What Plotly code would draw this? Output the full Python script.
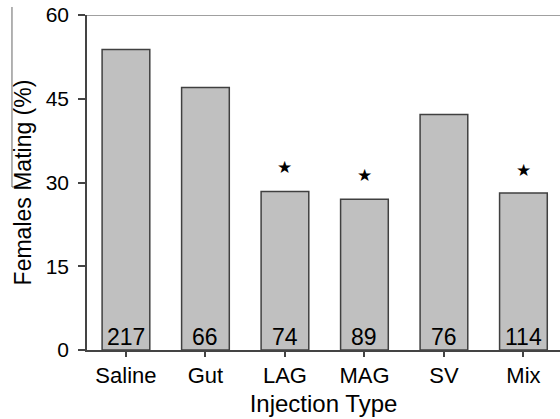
import plotly.graph_objects as go

categories = ["Saline", "Gut", "LAG", "MAG", "SV", "Mix"]
mating_pct = [53.8, 47.0, 28.4, 27.0, 42.2, 28.1]
n_labels = ["217", "66", "74", "89", "76", "114"]
star_cats = ["LAG", "MAG", "Mix"]
star_vals = [32.7, 31.4, 32.3]
y_ticks = [0, 15, 30, 45, 60]

FONT = "Liberation Sans, Arial, sans-serif"

fig = go.Figure()
fig.add_trace(go.Bar(
    x=categories, y=mating_pct, width=0.6,
    marker=dict(color="#c0c0c0", line=dict(color="#404040", width=1.5)),
    hoverinfo="skip",
))

annotations = []
for c, n in zip(categories, n_labels):
    annotations.append(dict(x=c, y=0, text=n, showarrow=False, xref="x", yref="y",
                            yanchor="bottom", yshift=-2,
                            font=dict(family=FONT, size=23, color="black")))
for c, v in zip(star_cats, star_vals):
    annotations.append(dict(x=c, y=v, text="★", showarrow=False, xref="x", yref="y",
                            font=dict(family="DejaVu Sans", size=17, color="black")))

fig.update_layout(
    width=560, height=419,
    margin=dict(l=87, r=0, t=15, b=69),
    paper_bgcolor="white", plot_bgcolor="white",
    showlegend=False,
    font=dict(family=FONT, color="black"),
    annotations=annotations,
    bargap=0.4,
    xaxis=dict(
        range=[-0.49, 5.46], showline=True, linecolor="#444", linewidth=1.5,
        ticks="outside", ticklen=5, tickcolor="#444", tickwidth=1.5,
        tickfont=dict(size=22, family=FONT),
        title=dict(text="Injection Type", font=dict(size=24, family=FONT), standoff=8),
        showgrid=False, zeroline=False,
    ),
    yaxis=dict(
        range=[0, 60], tickvals=y_ticks, showline=True, linecolor="#444", linewidth=1.5,
        ticks="outside", ticklen=7, tickcolor="#444", tickwidth=1.5,
        tickfont=dict(size=21, family=FONT), ticklabelstandoff=5,
        title=dict(text="Females Mating (%)", font=dict(size=23, family=FONT), standoff=8),
        showgrid=False, zeroline=False,
    ),
    shapes=[
        dict(type="line", xref="paper", yref="y", x0=0, x1=1, y0=60, y1=60,
             line=dict(color="#808080", width=1.5)),
        dict(type="line", xref="paper", yref="paper", x0=-0.1586, x1=-0.1586, y0=1.0239, y1=0.4866,
             line=dict(color="#666", width=1)),
        dict(type="line", xref="paper", yref="paper", x0=-0.1586, x1=-0.1247, y0=0.4866, y1=0.4866,
             line=dict(color="#666", width=1)),
    ],
)

fig.write_html("out.html")
